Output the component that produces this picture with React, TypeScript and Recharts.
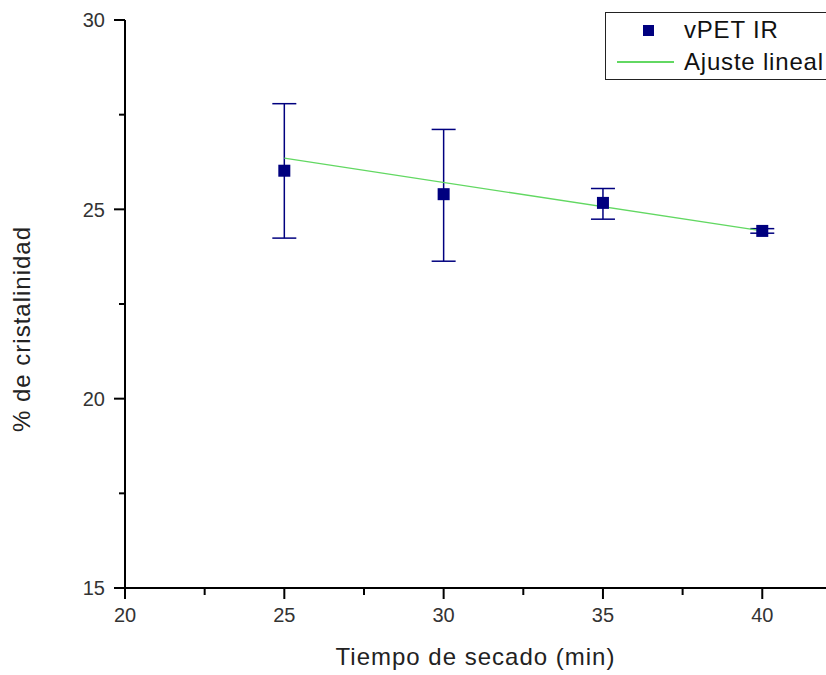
import React from "react";
import { ComposedChart, Scatter, Line, XAxis, YAxis, ErrorBar, Label } from "recharts";

// measured points (vPET IR)
const tiempos = [25, 30, 35, 40];
const cristalinidad = [26.02, 25.4, 25.17, 24.43];
const errInferior = [1.78, 1.77, 0.43, 0.06];
const errSuperior = [1.77, 1.71, 0.38, 0.06];

// linear fit end points
const ajusteX = [25, 40];
const ajusteY = [26.35, 24.43];

const xTicks = [20, 22.5, 25, 27.5, 30, 32.5, 35, 37.5, 40];
const yTicks = [15, 17.5, 20, 22.5, 25, 27.5, 30];

const puntos = tiempos.map((t, i) => ({
  x: t,
  y: cristalinidad[i],
  err: [errInferior[i], errSuperior[i]],
}));
const ajuste = ajusteX.map((t, i) => ({ x: t, y: ajusteY[i] }));

const NAVY = "#00007f";
const GREEN = "#62d862";
const FONT = "'Liberation Sans', Arial, sans-serif";

const XTick = (props: any) => {
  const { x, y, payload } = props;
  const major = payload.value % 5 === 0;
  return (
    <g>
      <line x1={x} y1={y} x2={x} y2={y + (major ? 11 : 7)} stroke="#000" strokeWidth={2} />
      {major && (
        <text x={x} y={y + 27} dy="0.36em" textAnchor="middle" fontSize={20} fill="#333" fontFamily={FONT}>
          {payload.value}
        </text>
      )}
    </g>
  );
};

const YTick = (props: any) => {
  const { x, y, payload } = props;
  const major = payload.value % 5 === 0;
  return (
    <g>
      <line x1={x - (major ? 11 : 6)} y1={y} x2={x} y2={y} stroke="#000" strokeWidth={2} />
      {major && (
        <text x={x - 20} y={y} dy="0.36em" textAnchor="end" fontSize={20} fill="#333" fontFamily={FONT}>
          {payload.value}
        </text>
      )}
    </g>
  );
};

const Cuadro = (props: any) => {
  const { cx, cy } = props;
  return <rect x={cx - 6} y={cy - 6} width={12} height={12} fill={NAVY} />;
};

const Leyenda = () => (
  <div
    style={{
      position: "absolute",
      left: 605,
      top: 12,
      border: "1px solid #222",
      width: 226,
      height: 68,
      background: "#fff",
      fontFamily: FONT,
      fontSize: 24,
      letterSpacing: 0.8,
      color: "#111",
      boxSizing: "border-box",
      paddingTop: 1,
    }}
  >
    <div style={{ display: "flex", alignItems: "center", height: 32 }}>
      <div style={{ width: 78, display: "flex", justifyContent: "center" }}>
        <div style={{ width: 11, height: 11, background: NAVY, marginLeft: 6 }} />
      </div>
      <span>vPET IR</span>
    </div>
    <div style={{ display: "flex", alignItems: "center", height: 32 }}>
      <div style={{ width: 78, display: "flex", justifyContent: "center" }}>
        <div style={{ width: 57, height: 1.5, background: GREEN }} />
      </div>
      <span>Ajuste lineal</span>
    </div>
  </div>
);

export default function App() {
  return (
    <div style={{ position: "absolute", left: 0, top: 0, width: 826, height: 675, overflow: "hidden", background: "#fff" }}>
      <ComposedChart width={826} height={675} margin={{ top: 20, right: 0, bottom: 0, left: 0 }}>
        <XAxis
          type="number"
          dataKey="x"
          domain={[20, 42]}
          ticks={xTicks}
          interval={0}
          height={87}
          tickSize={0}
          tickMargin={0}
          tickLine={false}
          tick={<XTick />}
          axisLine={{ stroke: "#000", strokeWidth: 2 }}
          allowDataOverflow
        >
          <Label
            content={(p: any) => {
              const vb = p.viewBox;
              return (
                <text
                  x={vb.x + vb.width / 2}
                  y={vb.y + 77}
                  textAnchor="middle"
                  fontSize={24}
                  letterSpacing={1}
                  fill="#222"
                  fontFamily={FONT}
                >
                  Tiempo de secado (min)
                </text>
              );
            }}
          />
        </XAxis>
        <YAxis
          type="number"
          dataKey="y"
          domain={[15, 30]}
          ticks={yTicks}
          interval={0}
          width={125}
          tickSize={0}
          tickMargin={0}
          tickLine={false}
          tick={<YTick />}
          axisLine={{ stroke: "#000", strokeWidth: 2 }}
          allowDataOverflow
        >
          <Label
            content={(p: any) => {
              const vb = p.viewBox;
              const cx = 30;
              const cy = vb.y + vb.height / 2 + 25;
              return (
                <text
                  x={cx}
                  y={cy}
                  transform={`rotate(-90 ${cx} ${cy})`}
                  textAnchor="middle"
                  fontSize={24}
                  letterSpacing={1}
                  fill="#222"
                  fontFamily={FONT}
                >
                  % de cristalinidad
                </text>
              );
            }}
          />
        </YAxis>
        <Scatter name="vPET IR" data={puntos} dataKey="y" fill={NAVY} shape={<Cuadro />} isAnimationActive={false}>
          <ErrorBar dataKey="err" direction="y" width={12} stroke={NAVY} strokeWidth={1.5} />
        </Scatter>
        <Line
          name="Ajuste lineal"
          data={ajuste}
          dataKey="y"
          type="linear"
          dot={false}
          stroke={GREEN}
          strokeWidth={1.3}
          isAnimationActive={false}
        />
      </ComposedChart>
      <Leyenda />
    </div>
  );
}
